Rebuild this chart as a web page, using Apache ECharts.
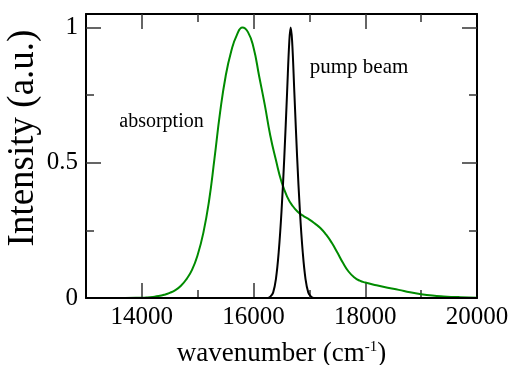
<!DOCTYPE html>
<html>
<head>
<meta charset="utf-8">
<script src="https://cdn.jsdelivr.net/npm/echarts@6/dist/echarts.min.js"></script>
<style>
html,body{margin:0;padding:0;background:#fff;}
#chart{width:511px;height:365px;}
</style>
</head>
<body>
<div id="chart"></div>
<script>
// ---- data ----
const absorptionX = [13000, 13500, 14000, 14100, 14200, 14300, 14400, 14500, 14600, 14700, 14800, 14900, 15000, 15100, 15200, 15300, 15400, 15500, 15600, 15700, 15800, 15900, 16000, 16100, 16200, 16300, 16400, 16500, 16600, 16700, 16800, 16900, 17000, 17100, 17200, 17300, 17400, 17500, 17600, 17700, 17800, 17900, 18000, 18200, 18400, 18600, 18800, 19000, 19200, 19400, 19700, 20000];
const absorptionY = [0, 0, 0.001, 0.002, 0.004, 0.007, 0.012, 0.019, 0.029, 0.045, 0.07, 0.105, 0.16, 0.24, 0.355, 0.515, 0.685, 0.82, 0.912, 0.972, 1.0, 0.983, 0.925, 0.82, 0.715, 0.60, 0.51, 0.43, 0.375, 0.34, 0.317, 0.302, 0.29, 0.275, 0.258, 0.234, 0.204, 0.168, 0.13, 0.098, 0.077, 0.064, 0.057, 0.047, 0.038, 0.03, 0.021, 0.014, 0.009, 0.006, 0.003, 0.001];
const pumpX = [13000, 16250, 16300, 16350, 16400, 16450, 16500, 16550, 16600, 16640, 16664, 16690, 16730, 16780, 16830, 16880, 16930, 16980, 17030, 17080, 20000];
const pumpY = [0, 0, 0.005, 0.02, 0.07, 0.17, 0.32, 0.52, 0.76, 0.95, 1.0, 0.95, 0.76, 0.52, 0.32, 0.17, 0.07, 0.02, 0.005, 0, 0];
const xMajorTicks = [14000, 16000, 18000, 20000];
const xMinorTicks = [15000, 17000, 19000];
const yMajorTicks = [0, 0.5, 1];
const yMinorTicks = [0.25, 0.75];
const xTitle = 'wavenumber (cm';
const xTitleSup = '-1';
const yTitle = 'Intensity (a.u.)';
const labelAbsorption = 'absorption';
const labelPump = 'pump beam';

const SERIF = 'Liberation Serif, Times New Roman, serif';
const chart = echarts.init(document.getElementById('chart'));

function xAx(pos, ticks, len, showLine, labels) {
  return {
    type: 'value', min: 13000, max: 20000, position: pos, gridIndex: 0,
    axisLine: {show: showLine, onZero: false, lineStyle: {color: '#000', width: 2}},
    axisTick: {show: true, inside: true, length: len, customValues: ticks, lineStyle: {color: '#333', width: 1.5}},
    axisLabel: labels ? {show: true, customValues: xMajorTicks, formatter: v => String(v), fontFamily: SERIF, fontSize: 25, color: '#000', margin: 7} : {show: false},
    splitLine: {show: false}
  };
}
function yAx(pos, ticks, len, showLine, labels) {
  return {
    type: 'value', min: 0, max: 1.05, position: pos, gridIndex: 0,
    axisLine: {show: showLine, onZero: false, lineStyle: {color: '#000', width: 2}},
    axisTick: {show: true, inside: true, length: len, customValues: ticks, lineStyle: {color: '#333', width: 1.5}},
    axisLabel: labels ? {show: true, customValues: yMajorTicks, formatter: v => String(v), fontFamily: SERIF, fontSize: 25, color: '#000', margin: 8} : {show: false},
    splitLine: {show: false}
  };
}

const xMain = xAx('bottom', xMajorTicks.slice(0, 3), 15, true, true);
xMain.name = '{a|' + xTitle + '}{s|' + xTitleSup + '}{a|)}';
xMain.nameLocation = 'middle';
xMain.nameGap = 42;
xMain.nameTextStyle = {
  rich: {
    a: {fontFamily: SERIF, fontSize: 27, color: '#000'},
    s: {fontFamily: SERIF, fontSize: 15, color: '#000', padding: [0, 0, 12, 0]}
  }
};

chart.setOption({
  animation: false,
  backgroundColor: '#fff',
  grid: {left: 86, right: 34, top: 14, bottom: 67, containLabel: false, outerBoundsMode: 'none'},
  xAxis: [
    xMain,
    xAx('bottom', xMinorTicks, 8, false, false),
    xAx('top', xMajorTicks.slice(0, 3), 15, true, false),
    xAx('top', xMinorTicks, 8, false, false)
  ],
  yAxis: [
    yAx('left', yMajorTicks, 15, true, true),
    yAx('left', yMinorTicks, 8, false, false),
    yAx('right', yMajorTicks, 15, true, false),
    yAx('right', yMinorTicks, 8, false, false)
  ],
  series: [
    {
      type: 'line', xAxisIndex: 0, yAxisIndex: 0, name: labelAbsorption,
      data: absorptionX.map((x, i) => [x, absorptionY[i]]),
      smooth: 0.5, showSymbol: false,
      lineStyle: {color: '#008b00', width: 2}
    },
    {
      type: 'line', xAxisIndex: 0, yAxisIndex: 0, name: labelPump,
      data: pumpX.map((x, i) => [x, pumpY[i]]),
      smooth: 0.4, showSymbol: false,
      lineStyle: {color: '#000', width: 2}
    }
  ],
  graphic: [
    {type: 'text', x: 23, y: 138, rotation: Math.PI / 2,
     style: {text: yTitle, fontFamily: SERIF, fontSize: 37, fill: '#000', align: 'center', verticalAlign: 'middle'}},
    {type: 'text', x: 161.5, y: 122,
     style: {text: labelAbsorption, fontFamily: SERIF, fontSize: 20, fill: '#000', align: 'center', verticalAlign: 'middle'}},
    {type: 'text', x: 359, y: 67,
     style: {text: labelPump, fontFamily: SERIF, fontSize: 21, fill: '#000', align: 'center', verticalAlign: 'middle'}}
  ]
});
</script>
</body>
</html>
